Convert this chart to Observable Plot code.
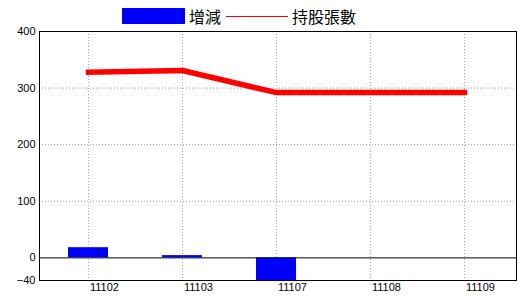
<!DOCTYPE html>
<html><head><meta charset="utf-8">
<script src="https://cdn.jsdelivr.net/npm/d3@7"></script>
<script src="https://cdn.jsdelivr.net/npm/@observablehq/plot@0.6"></script>
<style>
body{margin:0;background:#fff;}
#wrap{position:relative;width:520px;height:300px;font-family:"Liberation Sans",Arial,sans-serif;}
#legend{position:absolute;left:0;top:0;width:520px;height:30px;font-family:"Noto Sans CJK TC","Noto Sans CJK SC",sans-serif;font-size:16px;}
.sw{position:absolute;}
.lt{position:absolute;top:5px;line-height:22px;}
</style></head>
<body>
<div id="wrap">
<div id="legend">
  <div class="sw" style="left:122px;top:8px;width:63px;height:16px;background:#0000ff"></div>
  <div class="lt" style="left:189px">增減</div>
  <div class="sw" style="left:226px;top:16px;width:62px;height:1px;background:#ff0000"></div>
  <div class="lt" style="left:292px">持股張數</div>
</div>
<div id="chart"></div>
</div>
<script>
const periods = ["11102","11103","11107","11108","11109"];
const changes = [18, 4, -40, null, null];
const holdings = [328, 331, 292, 292, 292];
const yTicks = [-40, 0, 100, 200, 300, 400];
const gridTicks = [100, 200, 300];

const barData = periods.map((p,i)=>({p, v: changes[i]})).filter(d=>d.v!=null);
const lineData = periods.map((p,i)=>({p, v: holdings[i]}));

const chart = Plot.plot({
  width: 520, height: 300,
  marginLeft: 39, marginRight: 4, marginTop: 31, marginBottom: 20,
  style: {fontFamily: '"Liberation Sans", Arial, sans-serif', fontSize: "11px", color: "#000", background: "#fff"},
  x: {type: "band", domain: periods, range: [41, 511], padding: 0},
  y: {domain: [-40, 400]},
  marks: [
    Plot.ruleY(gridTicks, {stroke: "#999", strokeDasharray: "1,2"}),
    Plot.ruleX(periods, {x: d=>d, stroke: "#8ab4d4", strokeDasharray: "1,2"}),
    Plot.barY(barData, {x: "p", y: "v", fill: "#0000ff", insetLeft: 27, insetRight: 27}),
    Plot.ruleY([0], {stroke: "#000", strokeWidth: 1}),
    Plot.line(lineData, {x: "p", y: "v", stroke: "#ff0000", strokeWidth: 5.5, strokeLinecap: "square"}),
    Plot.axisX({label: null, tickSize: 0, tickPadding: 3, fontSize: 11, dx: 16, fill: "#000"}),
    Plot.axisY({ticks: yTicks, label: null, tickSize: 0, tickPadding: 4, fontSize: 11, fill: "#000"}),
    Plot.frame({stroke: "#000"})
  ]
});
document.getElementById("chart").appendChild(chart);
</script>
</body></html>
